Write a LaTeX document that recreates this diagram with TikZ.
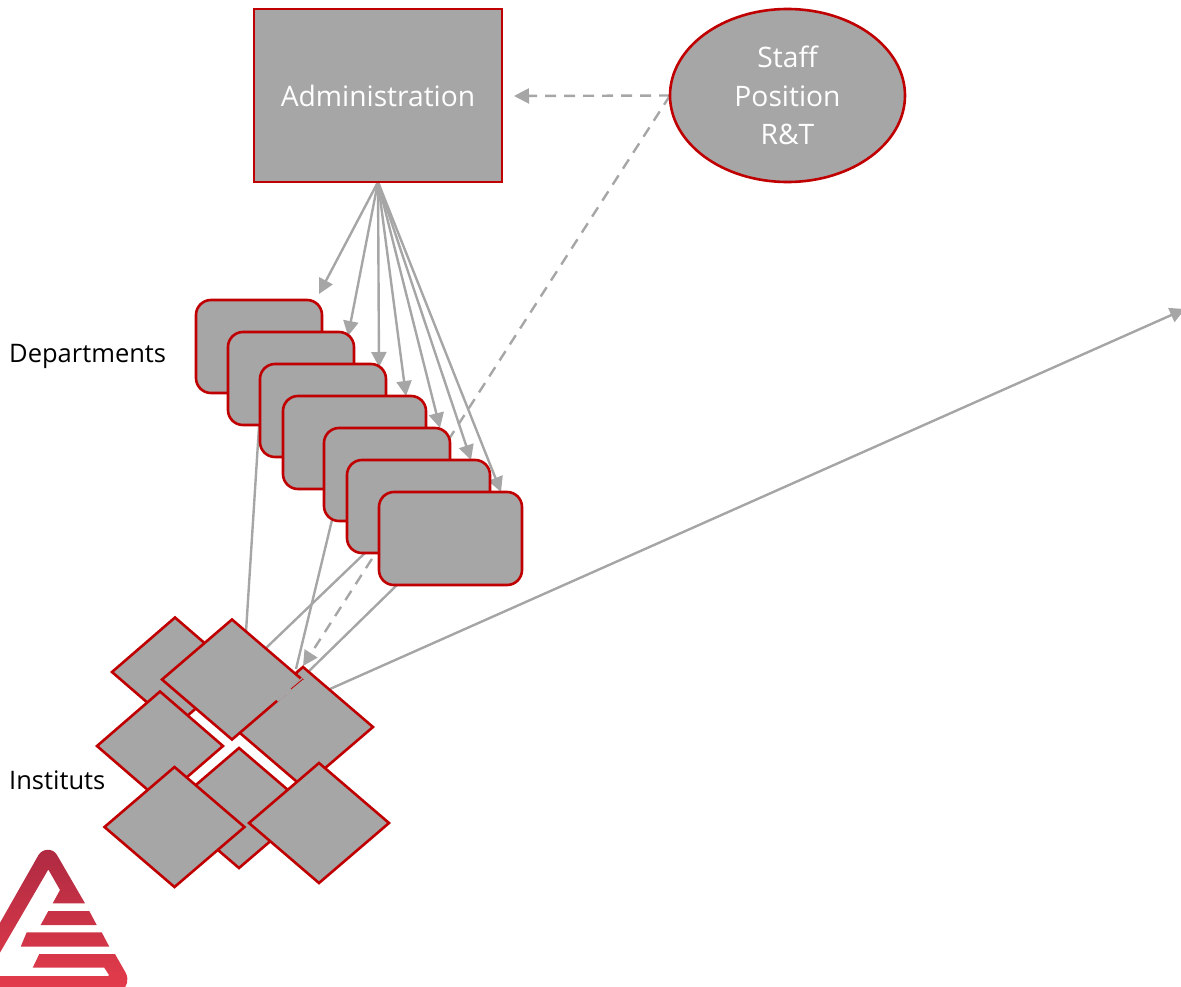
\documentclass[tikz,border=0pt]{standalone}
\usepackage{fontspec}
\setmainfont{Open Sans}
\usetikzlibrary{arrows.meta,shapes.geometric}
\definecolor{boxgray}{HTML}{A6A6A6}
\definecolor{boxred}{HTML}{C00000}
\definecolor{logotop}{HTML}{AE2A42}
\definecolor{logobot}{HTML}{E43C4B}
\pgfdeclarelayer{behind}
\pgfsetlayers{behind,main}
\tikzset{
  x=1pt,y=-1pt,
  block/.style={draw=boxred,fill=boxgray,line width=2.6pt,inner sep=0pt,outer sep=0pt},
  dept/.style={block,rectangle,rounded corners=15pt,minimum width=126pt,minimum height=93pt},
  deptwide/.style={dept,minimum width=143pt},
  inst/.style={block,diamond,shape aspect=1.17,minimum width=140pt,minimum height=120pt},
  instsmall/.style={inst,shape aspect=1.15,minimum width=126pt,minimum height=109pt},
  link/.style={draw=boxgray,line width=2.4pt},
  arrowlink/.style={link,-{Triangle[length=15pt,width=15pt]}},
  dashlink/.style={arrowlink,dash pattern=on 11pt off 8pt},
  whitetext/.style={text=white,font=\fontsize{28.2}{38.5}\selectfont,align=center},
  blacktext/.style={text=black,font=\fontsize{25.5}{30}\selectfont,anchor=base west,inner sep=0pt}
}
\begin{document}
\begin{tikzpicture}
\useasboundingbox (0,0) rectangle (1181,987);
% logo
\shade[top color=logotop,bottom color=logobot]
  (-20,958) -- (38.5,855) .. controls (43,848) and (53,848) .. (57,855)
  -- (85,903.3) -- (52.7,903.3) -- (60,890) -- (48.3,869.5) -- (-20,987) -- cycle
  (48.3,911) -- (89.3,911) -- (96.7,925) -- (40.7,925) -- cycle
  (26.7,932.3) -- (101.7,932.3) -- (109.3,946.7) -- (20.7,946.7) -- cycle
  (39.3,954) -- (115,954) -- (126,973.3) .. controls (129,980) and (127,987) .. (122,990)
  -- (-5,990) -- (-5,976) -- (108.3,976) -- (109,975) -- (104.3,967.7) -- (32.7,967.7) -- cycle;
% departments
\node[dept] (r1) at (259,346.5) {};
\node[dept] (r2) at (291,378.5) {};
\node[dept] (r3) at (323,410.5) {};
\node[deptwide] (r4) at (354.5,442.5) {};
\node[dept] (r5) at (387,474.5) {};
\node[deptwide] (r6) at (418.5,506.5) {};
\node[deptwide] (r7) at (450.5,538.5) {};
% institutes
\node[instsmall] (d1) at (175,672) {};
\node[inst] (d3) at (303,727) {};
\node[inst] (d2) at (232,679.5) {};
% worn corner where the two diamonds meet
\draw[boxgray,line width=3.4pt] (277,700.5) -- (303,679);
\draw[boxred,line width=.8pt] (291,689) -- (303,679);
\draw[boxred,line width=1.6pt] (298,670) -- (296.5,675) -- (300,677);
\node[instsmall] (d4) at (160,746) {};
\node[inst] (d5) at (239,808) {};
\node[inst] (d6) at (174.5,827) {};
\node[inst] (d7) at (319,823) {};
% top
\node[block,rectangle,minimum width=248pt,minimum height=173pt,whitetext] (admin) at (378,95.5) {Administration};
\node[block,ellipse,minimum width=235pt,minimum height=173pt,whitetext] (staff) at (787.5,95.5) {Staff\\Position\\R\&T};
% labels
\node[blacktext] (ldep) at (9,362) {Departments};
\node[blacktext] (lins) at (9,789) {Instituts};
% free ends
\coordinate (t1) at (319,294);
\coordinate (t2) at (348,336);
\coordinate (t3) at (379,367);
\coordinate (t4) at (406,396);
\coordinate (t5) at (440,428);
\coordinate (t6) at (471,460);
\coordinate (t7) at (501,492);
\coordinate (tadmin) at (514,96);
\coordinate (tinst) at (303,666);
\coordinate (tfar) at (1185,309);
\coordinate (s2) at (260,411);
\coordinate (e2) at (246,632);
\coordinate (s5) at (332,520);
\coordinate (e5) at (296,669);
\coordinate (s6) at (366,552);
\coordinate (e6) at (266,648);
\coordinate (s7) at (398,584);
\coordinate (e7) at (307,673);
\coordinate (s3) at (330,689);
\begin{pgfonlayer}{behind}
\foreach \t in {t1,t2,t3,t4,t5,t6,t7}
  \draw[arrowlink] (admin.south) -- (\t);
\draw[dashlink] (staff.west) -- (tadmin);
\draw[dashlink] (staff.west) -- (tinst);
\draw[link] (s2) -- (e2);
\draw[link] (s5) -- (e5);
\draw[link] (s6) -- (e6);
\draw[link] (s7) -- (e7);
\draw[arrowlink] (s3) -- (tfar);
\end{pgfonlayer}
\end{tikzpicture}
\end{document}
